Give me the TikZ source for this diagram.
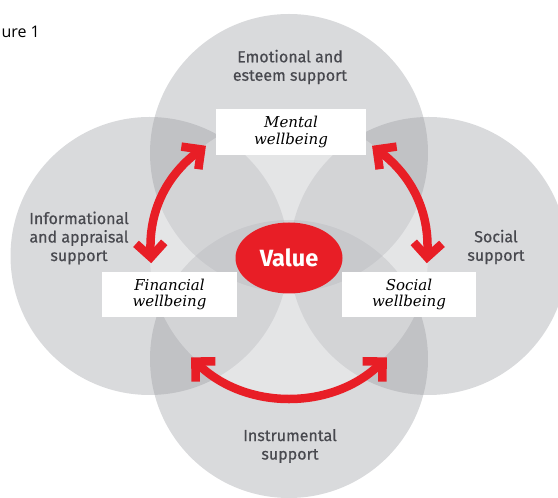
\documentclass[tikz,border=0pt]{standalone}
\usepackage{fontspec}
\newfontfamily\suppfont[FakeBold=0.6]{Fira Sans}
\newfontfamily\valfont{Fira Sans}
\newfontfamily\wbfont{DejaVu Serif}
\newfontfamily\capfont{Open Sans}
\usetikzlibrary{arrows.meta,shapes.geometric}

\begin{document}
\begin{tikzpicture}[x=1pt,y=1pt]
	\tikzstyle{suppcircle} = [circle, minimum size=278pt, inner sep=0pt, fill=circgray, fill opacity=0.35]
	\tikzstyle{wbbox} = [fill=white, minimum height=45pt, inner sep=0pt, align=center, font=\wbfont\itshape\fontsize{15}{16.5}\selectfont]
	\tikzstyle{supptext} = [align=center, text=labelgray, font=\suppfont\fontsize{16}{18.5}\selectfont]
	\tikzstyle{wbedge} = [{Straight Barb[angle=90:20pt]}-{Straight Barb[angle=90:20pt]}, line width=8.5pt, draw=valred]

	\def\rad{138}
	\def\dx{139.5}
	\def\dy{103}
	\definecolor{circgray}{RGB}{147,149,155}
	\definecolor{labelgray}{RGB}{72,73,79}
	\definecolor{valred}{RGB}{232,30,38}

	\clip (0,0) rectangle (558,498);
	\coordinate (ctr) at (289,242);

	% CIRCLES %
	\node[suppcircle] (top) at (289,242+\dy) {};
	\node[suppcircle] (left) at (289-\dx,242) {};
	\node[suppcircle] (right) at (289+\dx,242) {};
	\node[suppcircle] (bottom) at (289,242-\dy) {};
	\node[circle, minimum size=278pt, inner sep=0pt, fill=white, fill opacity=0.3] (core) at (ctr) {};

	% ARROW ENDS %
	\coordinate (ment-l) at ([shift={(127:\rad)}]ctr);
	\coordinate (fin-t) at ([shift={(183:\rad)}]ctr);
	\coordinate (ment-r) at ([shift={(53:\rad)}]ctr);
	\coordinate (soc-t) at ([shift={(-3:\rad)}]ctr);
	\coordinate (fin-b) at ([shift={(226:141)}]ctr);
	\coordinate (soc-b) at ([shift={(314:141)}]ctr);

	% EDGES %
	\draw[wbedge] (ment-l) to[bend right=28] (fin-t);
	\draw[wbedge] (ment-r) to[bend left=28] (soc-t);
	\draw[wbedge] (fin-b) to[bend right=44] (soc-b);

	% BOXES %
	\node[wbbox, minimum width=150pt, minimum height=46pt] (mental) at (291,366) {Mental\\wellbeing};
	\node[wbbox, minimum width=135pt] (financial) at (169.5,203.5) {Financial\\wellbeing};
	\node[wbbox, minimum width=134pt] (social) at (409,203.5) {Social\\wellbeing};
	\node[ellipse, minimum width=107pt, minimum height=71pt, inner sep=0pt, fill=valred, text=white, font=\valfont\bfseries\fontsize{23.5}{23.5}\selectfont] (value) at (289,240) {Value};

	% LABELS %
	\node[supptext] (emotional) at (290,431) {Emotional and\\esteem support};
	\node[supptext] (informational) at (79,260) {Informational\\and appraisal\\support};
	\node[supptext] (socialsupp) at (496,251) {Social\\support};
	\node[supptext] (instrumental) at (290,52) {Instrumental\\support};
	\node[anchor=base west, font=\capfont\fontsize{16}{16}\selectfont] (fig) at (-2,460) {ure 1};
\end{tikzpicture}
\end{document}
